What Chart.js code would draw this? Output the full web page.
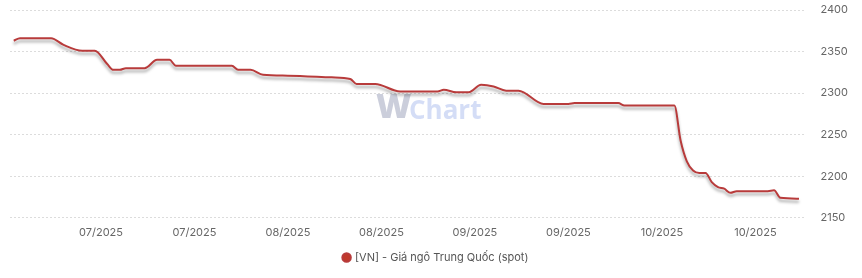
<!DOCTYPE html>
<html>
<head>
<meta charset="utf-8">
<script src="https://cdn.jsdelivr.net/npm/chart.js@4.4.1/dist/chart.umd.min.js"></script>
<style>
  html, body { margin: 0; padding: 0; background: #fff; }
  #wrap { width: 862px; height: 278px; }
</style>
</head>
<body>
<div id="wrap"><canvas id="myChart" width="862" height="278"></canvas></div>
<script>
// days counted from 20/06/2025
let days = [1, 2, 7, 9, 12, 14, 16, 17, 18, 19, 22, 24, 26, 27, 36, 37, 39, 41, 45, 52,
    55, 56, 59, 63, 69, 70, 72, 74, 76, 78, 80, 82, 86, 90, 91, 98, 99, 107, 108, 109,
    110, 111, 112, 113, 114, 115, 116, 117, 122, 123, 124, 127];
let prices = [2363, 2366, 2366, 2358, 2351, 2351, 2335, 2328, 2328, 2330, 2330, 2340, 2340, 2333, 2333, 2328, 2328, 2322, 2321, 2319,
    2317, 2311, 2311, 2302, 2302, 2304, 2301, 2301, 2310, 2308, 2303, 2303, 2287, 2287, 2288, 2288, 2285, 2285, 2243, 2218,
    2207, 2204, 2204, 2193, 2187, 2185, 2180, 2182, 2182, 2183, 2174, 2173];

let tickDays = [15, 30, 45, 60, 75, 90, 105, 120];
let tickLabels = ['07/2025', '07/2025', '08/2025', '08/2025', '09/2025', '09/2025', '10/2025', '10/2025'];

let seriesName = '[VN] - Giá ngô Trung Quốc (spot)';

let points = days.map((d, i) => ({ x: d, y: prices[i] }));

let watermark = {
    id: 'watermark',
    beforeDatasetsDraw(chart) {
        let c = chart.ctx;
        c.save();
        c.textBaseline = 'middle';
        c.font = '900 34px "Open Sans", sans-serif';
        c.fillStyle = 'rgba(160, 165, 190, 0.55)';
        c.fillText('W', 376, 108);
        c.font = 'bold 26px "Open Sans", sans-serif';
        c.fillStyle = 'rgba(160, 180, 235, 0.45)';
        c.fillText('Chart', 409, 112);
        c.restore();
    }
};

let lineShadow = {
    id: 'lineShadow',
    beforeDatasetDraw(chart) {
        let c = chart.ctx;
        c.save();
        c.shadowColor = 'rgba(0, 0, 0, 0.35)';
        c.shadowBlur = 3;
        c.shadowOffsetY = 3;
    },
    afterDatasetDraw(chart) {
        chart.ctx.restore();
    }
};

let ctx = document.getElementById('myChart').getContext('2d');

let chart_price = new Chart(ctx, {
    type: 'line',
    data: {
        datasets: [{
            label: seriesName,
            data: points,
            borderColor: '#b83b3b',
            backgroundColor: '#c0392b',
            borderWidth: 2,
            pointRadius: 0,
            cubicInterpolationMode: 'monotone',
            fill: false
        }]
    },
    plugins: [watermark, lineShadow],
    options: {
        responsive: false,
        animation: false,
        layout: { padding: { left: 10, top: 10, right: 0, bottom: 5 } },
        plugins: {
            legend: {
                position: 'bottom',
                labels: {
                    usePointStyle: true,
                    pointStyle: 'circle',
                    boxWidth: 6,
                    boxHeight: 6,
                    color: '#555',
                    font: { family: 'Inter, "Noto Sans", sans-serif', size: 11 },
                    padding: 13
                }
            },
            tooltip: { enabled: false }
        },
        scales: {
            x: {
                type: 'linear',
                min: 0.4,
                max: 128.2,
                grid: { display: false },
                border: { display: false },
                afterBuildTicks: axis => {
                    axis.ticks = tickDays.map(v => ({ value: v }));
                },
                ticks: {
                    autoSkip: false,
                    maxRotation: 0,
                    padding: 0,
                    color: '#666',
                    font: { family: 'Inter, "Noto Sans", sans-serif', size: 11 },
                    callback: (value, index) => tickLabels[index]
                }
            },
            y: {
                position: 'right',
                min: 2150,
                max: 2400,
                border: { display: false, dash: [2, 2] },
                grid: {
                    color: '#dcdcdc',
                    drawTicks: false
                },
                afterFit: axis => {
                    axis.paddingTop = 0;
                    axis.paddingBottom = 0;
                },
                ticks: {
                    stepSize: 50,
                    padding: 14,
                    color: '#666',
                    font: { family: 'Inter, "Noto Sans", sans-serif', size: 11 },
                    callback: value => String(value)
                }
            }
        }
    }
});
</script>
</body>
</html>
